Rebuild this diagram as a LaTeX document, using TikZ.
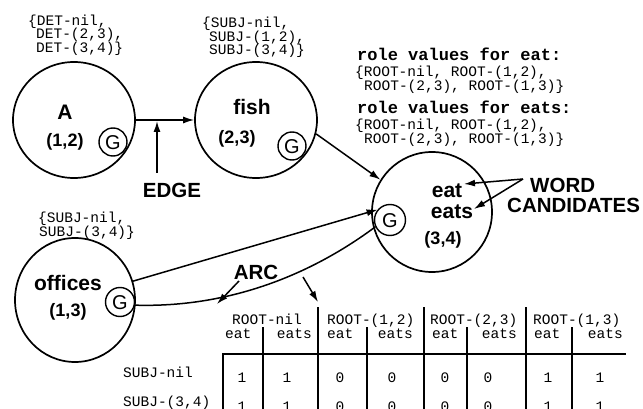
\documentclass[tikz,border=0pt]{standalone}
\usepackage{fontspec}
\setmainfont{Liberation Sans}
\newfontfamily\monof{Liberation Mono}
\usetikzlibrary{arrows.meta,shapes.geometric}

\begin{document}
\begin{tikzpicture}[x=1pt,y=-1pt,
  every node/.style={inner sep=0pt},
  circ/.style={ellipse, draw, line width=1.7pt},
  gmark/.style={circle, draw, line width=1.4pt, minimum size=28pt,
    font=\fontsize{20}{20}\selectfont, text height=14.3pt, text depth=0pt},
  lbl/.style={font=\bfseries\fontsize{21}{21}\selectfont, text height=15pt, text depth=0pt},
  span/.style={font=\bfseries\fontsize{18}{18}\selectfont, text height=13pt, text depth=0pt},
  callout/.style={font=\bfseries\fontsize{20.5}{20.5}\selectfont, text height=14.7pt, text depth=0pt},
  mono/.style={font=\monof\fontsize{14.5}{14.5}\selectfont, anchor=west, text height=9pt, text depth=0pt},
  monob/.style={font=\monof\bfseries\fontsize{17}{17}\selectfont, anchor=west, text height=10pt, text depth=0pt},
  cell/.style={font=\monof\fontsize{14.5}{14.5}\selectfont, text height=9pt, text depth=0pt},
  conn/.style={line width=1.5pt, -{Latex[length=11pt,width=7pt]}},
  plain/.style={line width=1.5pt},
  rule/.style={line width=1.8pt}
]
\useasboundingbox (0,0) rectangle (643,409);

% ---- word nodes ----
\node[circ, minimum width=122pt, minimum height=116pt] (nA) at (74,120) {};
\node[lbl] (nAw) at (65,112) {A};
\node[span] (nAs) at (65,140) {(1,2)};
\node[gmark] (nAg) at (113,142) {G};

\node[circ, minimum width=122pt, minimum height=116pt] (nfish) at (256,120) {};
\node[lbl] (nfishw) at (252,107) {fish};
\node[span] (nfishs) at (237,137) {(2,3)};
\node[gmark] (nfishg) at (292,146) {G};

\node[circ, minimum width=120pt, minimum height=120pt] (neat) at (432,212) {};
\node[lbl] (neatw1) at (447,190) {eat};
\node[lbl] (neatw2) at (452,211) {eats};
\node[span] (neats) at (443,238) {(3,4)};
\node[gmark, minimum size=31pt] (neatg) at (390,220) {G};

\node[circ, minimum width=120pt, minimum height=124pt] (noff) at (75,300) {};
\node[lbl] (noffw) at (68,283) {offices};
\node[span] (noffs) at (68,310) {(1,3)};
\node[gmark, minimum size=29pt] (noffg) at (120,302) {G};

% ---- role value sets ----
\node[mono] (detA) at (28,21) {\{DET-nil,};
\node[mono] (detB) at (36,34) {DET-(2,3),};
\node[mono] (detC) at (36,48) {DET-(3,4)\}};

\node[mono] (subA) at (202,23) {\{SUBJ-nil,};
\node[mono] (subB) at (209,37) {SUBJ-(1,2),};
\node[mono] (subC) at (209,50) {SUBJ-(3,4)\}};

\node[monob] (rvA) at (357,56) {role values for eat:};
\node[mono] (rvA1) at (355,72) {\{ROOT-nil, ROOT-(1,2),};
\node[mono] (rvA2) at (364,86) {ROOT-(2,3), ROOT-(1,3)\}};
\node[monob] (rvB) at (357,109) {role values for eats:};
\node[mono] (rvB1) at (355,125) {\{ROOT-nil, ROOT-(1,2),};
\node[mono] (rvB2) at (364,139) {ROOT-(2,3), ROOT-(1,3)\}};

\node[mono] (offA) at (38,218) {\{SUBJ-nil,};
\node[mono] (offB) at (39,232) {SUBJ-(3,4)\}};

% ---- callouts ----
\node[callout] (edgelbl) at (172,190) {EDGE};
\node[callout] (arclbl) at (256,272) {ARC};
\node[callout, anchor=west] (wc1) at (530,185) {WORD};
\node[callout, anchor=west] (wc2) at (507,205) {CANDIDATES};

\coordinate (edgetail) at (157,173);
\coordinate (edgehead) at (157,121);
\coordinate (arctail) at (239,281);
\coordinate (archead) at (217,304);
\coordinate (tabtail) at (303,277);
\coordinate (tabhead) at (318,302);
\coordinate (wcfrom) at (523,179);
\coordinate (wceat) at (464,184);
\coordinate (wceats) at (474,209);

% ---- connectors ----
\draw[conn] (nA) -- (nfish);
\draw[conn] (edgetail) -- (edgehead);
\draw[conn] (nfish.-13) -- (neat.148);
\draw[conn] (noff.18) -- (neatg.140);
\draw[plain] (noffg.-12) .. controls (230,308) and (312,274) .. (neatg.205);
\draw[conn] (arctail) -- (archead);
\draw[conn] (tabtail) -- (tabhead);
\draw[conn] (wcfrom) -- (wceat);
\draw[conn] (wcfrom) -- (wceats);

% ---- compatibility table ----
\foreach \x in {318,424,526} \draw[rule] (\x,307) -- (\x,412);
\foreach \x in {263,367,467,572} \draw[rule] (\x,327) -- (\x,412);
\draw[rule] (223,412) -- (223,354) -- (626,354);

\node[mono] (h1) at (232,320) {ROOT-nil};
\node[mono] (h2) at (327,320) {ROOT-(1,2)};
\node[mono] (h3) at (430,320) {ROOT-(2,3)};
\node[mono] (h4) at (533,320) {ROOT-(1,3)};
\foreach \xa/\xb [count=\i] in {225/312,327/413,432/517,534/623}{
  \node[mono] (se\i) at (\xa,334) {eat};
  \node[mono, anchor=east] (ss\i) at (\xb,334) {eats};
}

\node[mono] (rowA) at (123,373) {SUBJ-nil};
\node[mono] (rowB) at (123,402) {SUBJ-(3,4)};
\foreach \x/\v [count=\c] in {242/1,287/1,340/0,392/0,445/0,488/0,548/1,600/1}{
  \node[cell] (ca\c) at (\x,378) {\v};
  \node[cell] (cb\c) at (\x,407) {\v};
}
\end{tikzpicture}
\end{document}
